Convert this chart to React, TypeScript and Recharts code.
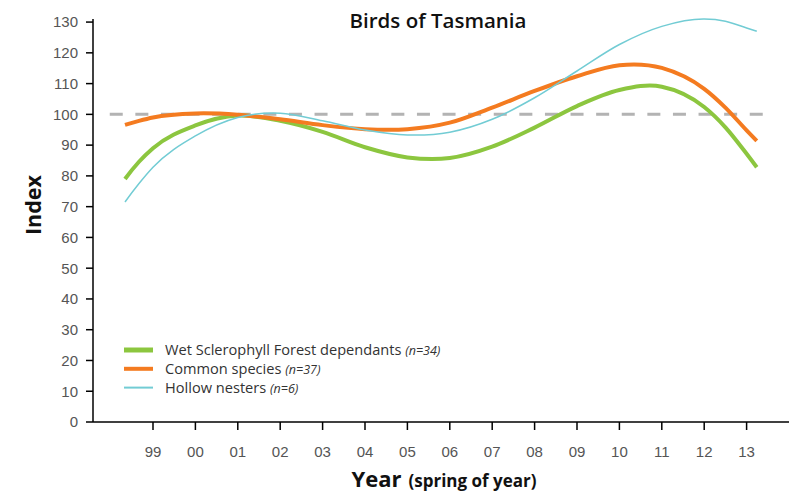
import React from 'react';
import { LineChart, Line, XAxis, YAxis, ReferenceLine, Legend } from 'recharts';

const yearLabels = ['99', '00', '01', '02', '03', '04', '05', '06', '07', '08', '09', '10', '11', '12', '13'];
const samplePos = [-0.66, -0.33, 0, 1, 2, 3, 4, 5, 6, 7, 8, 9, 10, 11, 12, 13, 13.5, 14, 14.24];
const wetSclerophyll = [79.0, 84.6, 89.0, 96.4, 99.6, 97.9, 94.3, 89.3, 86.0, 85.8, 89.5, 95.7, 102.7, 107.9, 109.0, 102.4, 95.8, 87.2, 82.8];
const commonSpecies = [96.6, 97.9, 99.0, 100.3, 99.9, 98.4, 96.5, 95.2, 95.2, 97.3, 102.2, 107.6, 112.4, 116.0, 115.1, 108.3, 102.2, 94.8, 91.4];
const hollowNesters = [71.5, 77.5, 82.8, 93.0, 99.0, 100.4, 97.9, 94.9, 93.3, 94.2, 98.4, 105.4, 114.1, 122.7, 128.6, 131.0, 130.3, 128.1, 127.0];
const yTicks = [0, 10, 20, 30, 40, 50, 60, 70, 80, 90, 100, 110, 120, 130];
const baselineValue = 100;
const baselineRange = [-1.02, 14.66];

const series = [
  { key: 'wet', name: 'Wet Sclerophyll Forest dependants', n: '(n=34)', color: '#8cc63f', width: 4, swatch: 5 },
  { key: 'common', name: 'Common species', n: '(n=37)', color: '#f47b20', width: 4, swatch: 4 },
  { key: 'hollow', name: 'Hollow nesters', n: '(n=6)', color: '#72ccd4', width: 1.5, swatch: 2 },
];

const data = samplePos.map((x, i) => ({
  x,
  wet: wetSclerophyll[i],
  common: commonSpecies[i],
  hollow: hollowNesters[i],
}));

// Smooth cubic Hermite curve through the points, tangents from local parabolas.
const smoothCurve = (context: any) => {
  let xs: number[] = [];
  let ys: number[] = [];
  return {
    areaStart() {},
    areaEnd() {},
    lineStart() {
      xs = [];
      ys = [];
    },
    point(x: number, y: number) {
      xs.push(+x);
      ys.push(+y);
    },
    lineEnd() {
      const n = xs.length;
      if (n === 0) return;
      context.moveTo(xs[0], ys[0]);
      if (n === 1) return;
      if (n === 2) {
        context.lineTo(xs[1], ys[1]);
        return;
      }
      const t: number[] = new Array(n).fill(0);
      for (let i = 1; i < n - 1; i++) {
        const h0 = xs[i] - xs[i - 1];
        const h1 = xs[i + 1] - xs[i];
        const d0 = (ys[i] - ys[i - 1]) / h0;
        const d1 = (ys[i + 1] - ys[i]) / h1;
        t[i] = (h1 * d0 + h0 * d1) / (h0 + h1);
      }
      {
        const h0 = xs[1] - xs[0];
        const h1 = xs[2] - xs[1];
        const d0 = (ys[1] - ys[0]) / h0;
        const d1 = (ys[2] - ys[1]) / h1;
        t[0] = d0 - (h0 * (d1 - d0)) / (h0 + h1);
      }
      {
        const h0 = xs[n - 2] - xs[n - 3];
        const h1 = xs[n - 1] - xs[n - 2];
        const d0 = (ys[n - 2] - ys[n - 3]) / h0;
        const d1 = (ys[n - 1] - ys[n - 2]) / h1;
        t[n - 1] = d1 + (h1 * (d1 - d0)) / (h0 + h1);
      }
      for (let i = 0; i < n - 1; i++) {
        const h = xs[i + 1] - xs[i];
        context.bezierCurveTo(
          xs[i] + h / 3,
          ys[i] + (t[i] * h) / 3,
          xs[i + 1] - h / 3,
          ys[i + 1] - (t[i + 1] * h) / 3,
          xs[i + 1],
          ys[i + 1]
        );
      }
    },
  };
};

const headFont = '"Open Sans", "DejaVu Sans", sans-serif';
const tickFont = '"Liberation Sans", Arial, sans-serif';

const LegendContent = () => (
  <svg width={360} height={60}>
    {series.map((s, i) => {
      const cy = 10 + i * 18.8;
      return (
        <g key={s.key}>
          <line x1={0} x2={29} y1={cy} y2={cy} stroke={s.color} strokeWidth={s.swatch} />
          <text x={41} y={cy + 5} fontFamily={headFont} fontSize={14.6} fill="#333">
            {s.name}{' '}
            <tspan fontStyle="italic" fontSize={12.5}>{s.n}</tspan>
          </text>
        </g>
      );
    })}
  </svg>
);

export default function App() {
  return (
    <div style={{ position: 'absolute', left: 0, top: 0, width: 800, height: 495, background: '#fff' }}>
      <LineChart width={800} height={495} data={data} margin={{ top: 19, right: 11, bottom: 30, left: 0 }}>
        <XAxis
          type="number"
          dataKey="x"
          domain={[-1.415, 15]}
          ticks={yearLabels.map((_, i) => i)}
          tickFormatter={(v: number) => yearLabels[v]}
          allowDataOverflow
          height={43}
          tickSize={8}
          tickMargin={16}
          stroke="#000"
          strokeWidth={1.5}
          tick={{ fill: '#555', fontSize: 15, fontFamily: tickFont }}
          tickLine={{ stroke: '#000', strokeWidth: 1.5 }}
        />
        <YAxis
          type="number"
          domain={[0, 130]}
          ticks={yTicks}
          width={93}
          tickSize={7}
          tickMargin={8}
          stroke="#000"
          strokeWidth={1.5}
          tick={{ fill: '#555', fontSize: 15, fontFamily: tickFont }}
          tickLine={{ stroke: '#000', strokeWidth: 1.5 }}
          interval={0}
        />
        <ReferenceLine
          segment={[{ x: baselineRange[0], y: baselineValue }, { x: baselineRange[1], y: baselineValue }]}
          stroke="#b3b3b3"
          strokeWidth={3}
          strokeDasharray="13 12.6"
        />
        {series.map((s) => (
          <Line
            key={s.key}
            type={smoothCurve as any}
            dataKey={s.key}
            name={s.name}
            stroke={s.color}
            strokeWidth={s.width}
            dot={false}
            activeDot={false}
            isAnimationActive={false}
          />
        ))}
        <Legend
          layout="vertical"
          align="center"
          verticalAlign="middle"
          wrapperStyle={{ position: 'absolute', left: 124, top: 340, width: 360, height: 60 }}
          content={<LegendContent />}
        />
      </LineChart>
      <svg width={800} height={495} style={{ position: 'absolute', left: 0, top: 0, pointerEvents: 'none' }}>
        <text x={438} y={28} textAnchor="middle" fontFamily={headFont} fontWeight={600} fontSize={20.5} fill="#111">
          Birds of Tasmania
        </text>
        <text x={41} y={205} transform="rotate(-90 41 205)" textAnchor="middle" fontFamily={headFont} fontWeight={700} fontSize={21.5} fill="#111">
          Index
        </text>
        <text x={444} y={487} textAnchor="middle" fontFamily={headFont} fontWeight={700} fill="#111">
          <tspan fontSize={22}>Year</tspan>
          <tspan fontSize={17} dx={7}>(spring of year)</tspan>
        </text>
      </svg>
    </div>
  );
}
